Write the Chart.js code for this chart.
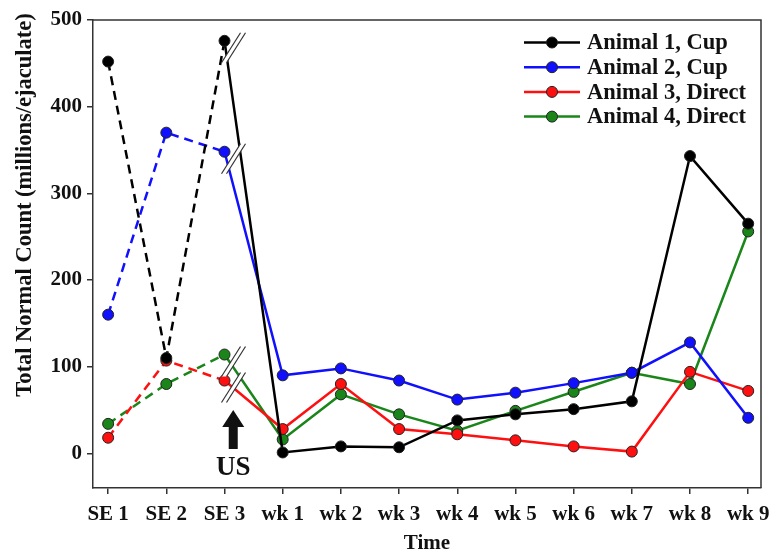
<!DOCTYPE html>
<html>
<head>
<meta charset="utf-8">
<script src="https://cdn.jsdelivr.net/npm/chart.js@4.4.1/dist/chart.umd.min.js"></script>
<style>
  html, body { margin: 0; padding: 0; background: #fff; }
  #wrap { width: 772px; height: 556px; }
</style>
</head>
<body>
<div id="wrap"><canvas id="chart" width="772" height="556"></canvas></div>
<script>
// Data
const timeLabels = ['SE 1', 'SE 2', 'SE 3', 'wk 1', 'wk 2', 'wk 3', 'wk 4', 'wk 5', 'wk 6', 'wk 7', 'wk 8', 'wk 9'];
const animal1Cup = [452, 110, 476, 1, 8, 7, 38, 45, 51, 60, 343, 265];
const animal2Cup = [160, 370, 348, 90, 98, 84, 62, 70, 81, 93, 128, 41];
const animal3Direct = [18, 107, 84, 28, 80, 28, 22, 15, 8, 2, 94, 72];
const animal4Direct = [34, 80, 114, 16, 68, 45, 26, 49, 71, 93, 80, 256];
const yTicks = [0, 100, 200, 300, 400, 500];
const yTitle = 'Total Normal Count (millions/ejaculate)';

// "US" arrow annotation (data units)
const usIndex = 2.15;
const usArrowTop = 50;
const usArrowBottom = 5;
const usTextY = -17;

const FONT = '"Liberation Serif", "Times New Roman", serif';

function toPoints(arr) {
    return arr.map((v, i) => ({ x: i, y: v }));
}

function makeSeries(label, values, color) {
    return {
        label: label,
        data: toPoints(values),
        borderColor: color,
        backgroundColor: color,
        pointBackgroundColor: color,
        pointBorderColor: '#222',
        pointBorderWidth: 1,
        pointRadius: 5.5,
        pointHoverRadius: 5.5,
        borderWidth: 2.5,
        tension: 0,
        segment: {
            // semen evaluation period drawn dashed
            borderDash: ctx => ctx.p0DataIndex < 2 ? [9, 6] : undefined
        }
    };
}

// Box round the plot, break marks, arrow, legend, y title
const decorPlugin = {
    id: 'decor',
    beforeDatasetsDraw(chart) {
        const { ctx, chartArea } = chart;
        ctx.save();
        ctx.strokeStyle = '#333';
        ctx.lineWidth = 1.5;
        ctx.beginPath();
        ctx.moveTo(chartArea.left, chartArea.top);
        ctx.lineTo(chartArea.right, chartArea.top);
        ctx.lineTo(chartArea.right, chartArea.bottom);
        ctx.stroke();

        // y axis title, sits a little above centre as in the figure
        ctx.translate(25, 205);
        ctx.rotate(-Math.PI / 2);
        ctx.fillStyle = '#111';
        ctx.font = 'bold 22.5px ' + FONT;
        ctx.textAlign = 'center';
        ctx.textBaseline = 'middle';
        ctx.fillText(yTitle, 0, 0);
        ctx.restore();
    },
    afterDatasetsDraw(chart) {
        const { ctx, chartArea, scales } = chart;
        const xs = scales.x, ys = scales.y;

        // axis breaks at SE 3
        ctx.save();
        chart.data.datasets.forEach(ds => {
            const px = xs.getPixelForValue(2) + 9;
            const py = ys.getPixelForValue(ds.data[2].y) + 7;
            const dx = 9.5, dy = -15, gap = 5;
            ctx.fillStyle = '#fff';
            ctx.beginPath();
            ctx.moveTo(px - dx - gap / 2, py - dy);
            ctx.lineTo(px + dx - gap / 2, py + dy);
            ctx.lineTo(px + dx + gap / 2, py + dy);
            ctx.lineTo(px - dx + gap / 2, py - dy);
            ctx.closePath();
            ctx.fill();
            ctx.strokeStyle = '#333';
            ctx.lineWidth = 1.2;
            [-gap / 2, gap / 2].forEach(o => {
                ctx.beginPath();
                ctx.moveTo(px - dx + o, py - dy);
                ctx.lineTo(px + dx + o, py + dy);
                ctx.stroke();
            });
        });
        ctx.restore();

        // US arrow
        const ax = xs.getPixelForValue(usIndex);
        const aTop = ys.getPixelForValue(usArrowTop);
        const aBot = ys.getPixelForValue(usArrowBottom);
        ctx.save();
        ctx.fillStyle = '#111';
        ctx.beginPath();
        ctx.moveTo(ax, aTop);
        ctx.lineTo(ax + 11, aTop + 17);
        ctx.lineTo(ax + 4.5, aTop + 17);
        ctx.lineTo(ax + 4.5, aBot);
        ctx.lineTo(ax - 4.5, aBot);
        ctx.lineTo(ax - 4.5, aTop + 17);
        ctx.lineTo(ax - 11, aTop + 17);
        ctx.closePath();
        ctx.fill();
        ctx.font = 'bold 27px ' + FONT;
        ctx.textAlign = 'center';
        ctx.textBaseline = 'middle';
        ctx.fillText('US', ax, ys.getPixelForValue(usTextY));
        ctx.restore();

        // legend, top right inside the plot
        ctx.save();
        const lx0 = chartArea.right - 237;
        const lx1 = chartArea.right - 181;
        const tx = chartArea.right - 174;
        chart.data.datasets.forEach((ds, i) => {
            const y = chartArea.top + 22.5 + i * 24.7;
            ctx.strokeStyle = ds.borderColor;
            ctx.lineWidth = 2.5;
            ctx.beginPath();
            ctx.moveTo(lx0, y);
            ctx.lineTo(lx1, y);
            ctx.stroke();
            ctx.fillStyle = ds.pointBackgroundColor;
            ctx.strokeStyle = '#222';
            ctx.lineWidth = 1;
            ctx.beginPath();
            ctx.arc((lx0 + lx1) / 2, y, 5.5, 0, Math.PI * 2);
            ctx.fill();
            ctx.stroke();
            ctx.fillStyle = '#111';
            ctx.font = 'bold 22.5px ' + FONT;
            ctx.textAlign = 'left';
            ctx.textBaseline = 'middle';
            ctx.fillText(ds.label, tx, y + 1);
        });
        ctx.restore();
    }
};

const config = {
    type: 'line',
    data: {
        datasets: [
            makeSeries('Animal 1, Cup', animal1Cup, '#000000'),
            makeSeries('Animal 2, Cup', animal2Cup, '#1010ff'),
            makeSeries('Animal 3, Direct', animal3Direct, '#ff1010'),
            makeSeries('Animal 4, Direct', animal4Direct, '#1a861a')
        ]
    },
    options: {
        responsive: false,
        animation: false,
        devicePixelRatio: 1,
        layout: { padding: { top: 20, right: 11, left: 0, bottom: 0 } },
        plugins: {
            legend: { display: false },
            tooltip: { enabled: false }
        },
        scales: {
            x: {
                type: 'linear',
                min: -0.26,
                max: 11.22,
                afterBuildTicks: scale => {
                    scale.ticks = timeLabels.map((_, i) => ({ value: i }));
                },
                afterFit: scale => {
                    scale.height = 68;
                    scale.paddingLeft = 0;
                    scale.paddingRight = 0;
                },
                border: { display: true, color: '#333', width: 1.5 },
                grid: { drawOnChartArea: false, drawTicks: true, tickLength: 6, color: '#333', lineWidth: 1.5 },
                ticks: {
                    autoSkip: false,
                    maxRotation: 0,
                    padding: 8,
                    color: '#111',
                    font: { family: FONT, size: 21, weight: 'bold' },
                    callback: v => timeLabels[v]
                },
                title: {
                    display: true,
                    text: 'Time',
                    color: '#111',
                    padding: { top: 0, bottom: 0 },
                    font: { family: FONT, size: 21, weight: 'bold' }
                }
            },
            y: {
                min: -40,
                max: 500,
                afterBuildTicks: scale => {
                    scale.ticks = yTicks.map(v => ({ value: v }));
                },
                afterFit: scale => {
                    scale.width = 93;
                    scale.paddingTop = 0;
                    scale.paddingBottom = 0;
                },
                border: { display: true, color: '#333', width: 1.5 },
                grid: { drawOnChartArea: false, drawTicks: true, tickLength: 6, color: '#333', lineWidth: 1.5 },
                ticks: {
                    padding: 5,
                    color: '#111',
                    font: { family: FONT, size: 21, weight: 'bold' }
                }
            }
        }
    },
    plugins: [decorPlugin]
};

document.addEventListener('DOMContentLoaded', () => {
    window.countChart = new Chart(document.getElementById('chart').getContext('2d'), config);
});
</script>
</body>
</html>
